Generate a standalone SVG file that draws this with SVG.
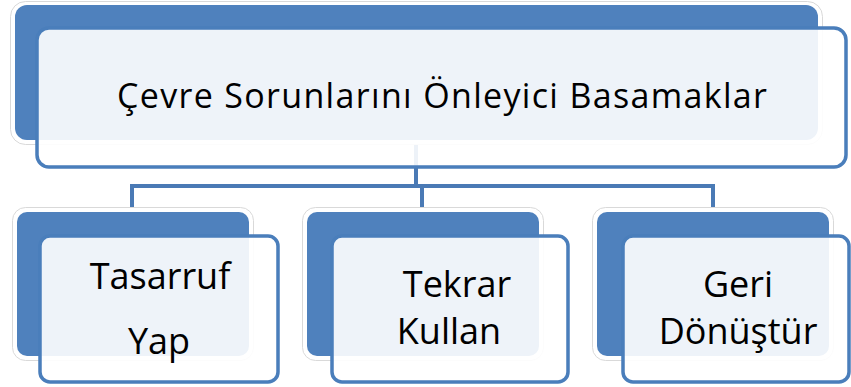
<svg xmlns="http://www.w3.org/2000/svg" width="851" height="387" viewBox="0 0 851 387">
<style>
.halo{fill:#ffffff;stroke:#d9d9d9;stroke-width:1}
.back{fill:#4F81BD}
.front{fill:#ffffff;fill-opacity:0.9;stroke:#4A7EBB;stroke-width:3.5}
.conn{fill:none;stroke:#4A7AB5;stroke-width:4}
text{font-family:"Open Sans","Liberation Sans",sans-serif;fill:#000000;text-anchor:middle}
.t1{font-size:34px}
.t2{font-size:36px}
</style>
<rect width="851" height="387" fill="#ffffff"/>
<g id="connectors">
<path class="conn" d="M416,140 V186"/>
<path class="conn" d="M132,208 V186 H713 V208"/>
<path class="conn" d="M422,186 V208"/>
</g>
<g id="node-root">
<rect class="halo" x="10.5" y="1.5" width="812" height="143" rx="15"/>
<rect class="back" x="15" y="5" width="803" height="135" rx="12"/>
<rect class="front" x="37" y="28" width="809" height="139" rx="12"/>
<text class="t1" x="442" y="108" textLength="650" lengthAdjust="spacing">Çevre Sorunlarını Önleyici Basamaklar</text>
</g>
<g id="node-tasarruf">
<rect class="halo" x="12.5" y="207.5" width="241" height="153" rx="13"/>
<rect class="back" x="17" y="212" width="232" height="144" rx="10"/>
<rect class="front" x="40" y="236" width="238" height="146" rx="10"/>
<text class="t2" x="160" y="289">Tasarruf</text>
<text class="t2" x="159" y="354">Yap</text>
</g>
<g id="node-tekrar">
<rect class="halo" x="302.5" y="207.5" width="241" height="153" rx="13"/>
<rect class="back" x="307" y="212" width="232" height="144" rx="10"/>
<rect class="front" x="332" y="236" width="236" height="146" rx="10"/>
<text class="t2" x="457" y="297">Tekrar</text>
<text class="t2" x="449" y="344">Kullan</text>
</g>
<g id="node-geri">
<rect class="halo" x="592.5" y="207.5" width="241" height="153" rx="13"/>
<rect class="back" x="597" y="212" width="232" height="144" rx="10"/>
<rect class="front" x="623" y="236" width="226" height="146" rx="10"/>
<text class="t2" x="738" y="297">Geri</text>
<text class="t2" x="738" y="344">Dönüştür</text>
</g>
</svg>
